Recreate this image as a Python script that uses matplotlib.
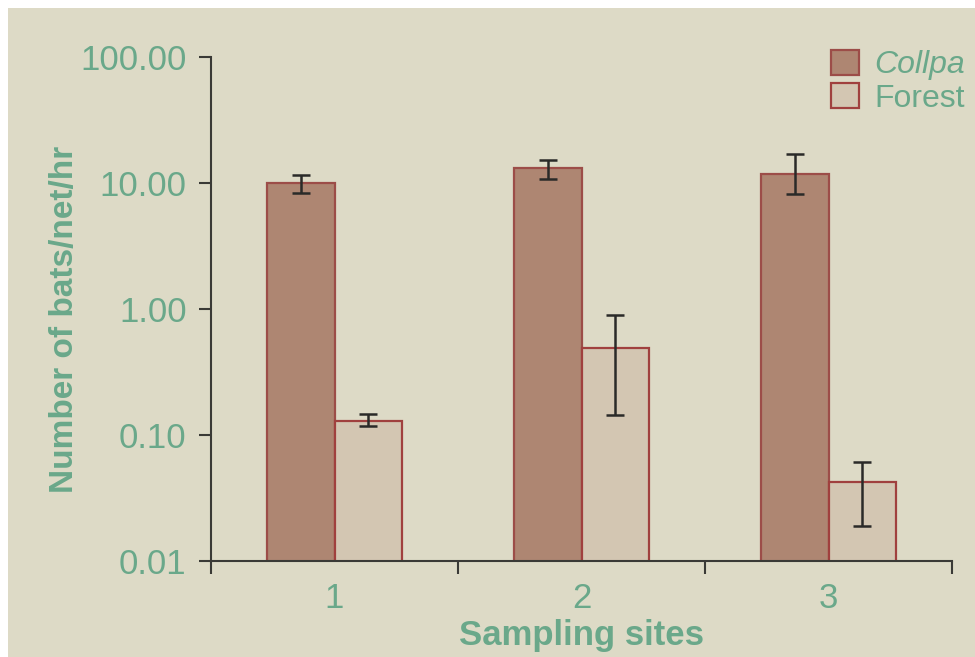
import matplotlib
matplotlib.use("Agg")
import matplotlib.pyplot as plt
from matplotlib.patches import Rectangle, Patch
import numpy as np

# Bat capture rates per sampling site
sites = ["1", "2", "3"]
collpa = [10.0, 13.2, 11.7]
collpa_err_low = [1.7, 2.4, 3.5]
collpa_err_high = [1.6, 2.0, 5.3]
forest = [0.129, 0.49, 0.041]
forest_err_low = [0.011, 0.345, 0.022]
forest_err_high = [0.017, 0.40, 0.020]
yticks = [0.01, 0.1, 1, 10, 100]
ytick_labels = ["0.01", "0.10", "1.00", "10.00", "100.00"]

bg = "#dddac6"
green = "#6aa88a"
axis_col = "#3a3a36"
collpa_fill = "#ae8672"
collpa_edge = "#9c4d48"
forest_fill = "#d3c6b2"
forest_edge = "#a0403e"

plt.rcParams["font.family"] = ["Liberation Sans", "DejaVu Sans"]

W, H = 975, 657
fig = plt.figure(figsize=(W / 100, H / 100), dpi=100, facecolor="white")
fig.patches.append(Rectangle((8 / W, 0), 1 - 8 / W, 1 - 8 / H,
                             transform=fig.transFigure, facecolor=bg,
                             edgecolor="none", zorder=-10))

ax = fig.add_axes([211 / W, (H - 561) / H, (952 - 211) / W, (561 - 57) / H])
ax.set_facecolor("none")

x = np.arange(1, len(sites) + 1)
bw = 0.273
ax.bar(x - bw / 2, collpa, width=bw, bottom=0.001, color=collpa_fill,
       edgecolor=collpa_edge, linewidth=1.6, zorder=2)
ax.bar(x + bw / 2, forest, width=bw, bottom=0.001, color=forest_fill,
       edgecolor=forest_edge, linewidth=1.6, zorder=2)
ax.errorbar(x - bw / 2, collpa, yerr=[collpa_err_low, collpa_err_high],
            fmt="none", ecolor="#2a2a28", elinewidth=1.8, capsize=6.5,
            capthick=1.8, zorder=3)
ax.errorbar(x + bw / 2, forest, yerr=[forest_err_low, forest_err_high],
            fmt="none", ecolor="#2a2a28", elinewidth=1.8, capsize=6.5,
            capthick=1.8, zorder=3)

ax.set_yscale("log")
ax.set_ylim(0.01, 100)
ax.set_xlim(0.5, 3.5)
ax.set_yticks(yticks)
ax.set_yticklabels(ytick_labels)
ax.yaxis.set_minor_locator(matplotlib.ticker.NullLocator())
ax.set_xticks(x)
ax.set_xticklabels(sites)
ax.set_xticks([0.5, 1.5, 2.5, 3.5], minor=True)

for s in ["top", "right"]:
    ax.spines[s].set_visible(False)
for s in ["left", "bottom"]:
    ax.spines[s].set_color(axis_col)
    ax.spines[s].set_linewidth(1.5)

ax.tick_params(axis="y", which="major", length=8.6, width=1.5, color=axis_col,
               labelcolor=green, labelsize=25, pad=9)
ax.tick_params(axis="x", which="major", length=0, labelcolor=green,
               labelsize=25, pad=15)
ax.tick_params(axis="x", which="minor", length=9, width=1.5, color=axis_col)

ax.set_xlabel("Sampling sites", color=green, fontsize=25, fontweight="bold")
ax.xaxis.set_label_coords(0.5, -0.115)
ax.set_ylabel("Number of bats/net/hr", color=green, fontsize=24,
              fontweight="bold")
ax.yaxis.set_label_coords(-0.177, 0.48)

handles = [Patch(facecolor=collpa_fill, edgecolor=collpa_edge, linewidth=1.6),
           Patch(facecolor=forest_fill, edgecolor=forest_edge, linewidth=1.6)]
leg = ax.legend(handles, ["Collpa", "Forest"], loc="upper left",
                bbox_to_anchor=(0.82, 1.04), frameon=False, fontsize=23,
                handlelength=0.85, handleheight=0.85, handletextpad=0.5,
                labelspacing=0.08, borderaxespad=0)
for t in leg.get_texts():
    t.set_color(green)
leg.get_texts()[0].set_fontstyle("italic")

fig.savefig("out.png", dpi=100, facecolor="white")
